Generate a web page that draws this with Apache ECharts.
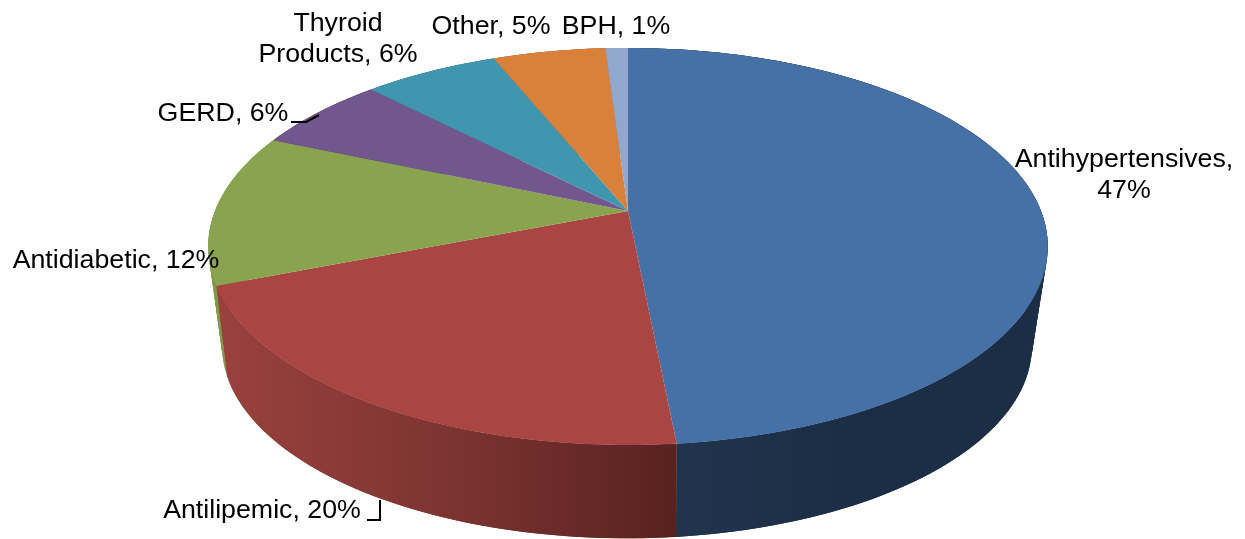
<!DOCTYPE html>
<html>
<head>
<meta charset="utf-8">
<style>html,body{margin:0;padding:0;background:#fff}#chart{width:1245px;height:539px}</style>
<script src="https://cdn.jsdelivr.net/npm/echarts@6/dist/echarts.min.js"></script>
</head>
<body>
<div id="chart"></div>
<script>
// Drug-class share, drawn as a tilted 3D pie on ECharts custom series.
const categories = ['Antihypertensives', 'Antilipemic', 'Antidiabetic', 'GERD', 'Thyroid Products', 'Other', 'BPH'];
const shares = [47, 20, 12, 6, 6, 5, 1];
const topColors = ['#4571a6', '#a94543', '#89a34e', '#71578e', '#4096ae', '#d9813b', '#92a7cd'];
const wallStops = [
  ['#22364f', '#1b2e46', '#1b2e46'],
  ['#9a413e', '#7d3432', '#58221f'],
  ['#7f9848', '#7f9848', '#7f9848'],
  ['#5a4672', '#5a4672', '#5a4672'],
  ['#33788b', '#33788b', '#33788b'],
  ['#ad6730', '#ad6730', '#ad6730'],
  ['#7485a3', '#7485a3', '#7485a3']
];
const labelLines = [
  ['Antihypertensives,', '47%'],
  ['Antilipemic, 20%'],
  ['Antidiabetic, 12%'],
  ['GERD, 6%'],
  ['Thyroid', 'Products, 6%'],
  ['Other, 5%'],
  ['BPH, 1%']
];
const labelAnchors = [[1124, 160], [262, 511], [116, 261], [223, 114], [338, 24], [491, 27], [616, 27]];
const leaderPaths = [null, [[367, 520], [380, 520], [380, 500]], null, [[291, 122], [306, 122], [319, 115]], null, null, null];

// Perspective discs: each hub sits above its ellipse centre because the far rim is foreshortened.
const upperDisc = { cx: 628, hubY: 211, a: 413, b: 192.2, p: 0.1788 };
const lowerDisc = { cx: 627, hubY: 303.7, a: 395, b: 183, p: 0.22 };

const total = shares.reduce((s, v) => s + v, 0);
const startAngles = [];
shares.reduce((run, v, i) => { startAngles[i] = run / total * Math.PI * 2; return run + v; }, 0);

function rimPoint(disc, theta) {
  const u = Math.sin(theta), v = -Math.cos(theta), d = 1 - disc.p * v;
  return [disc.cx + disc.a * u / d, disc.hubY + disc.b * v / d];
}
function sliceAngles(i) {
  const a0 = startAngles[i], a1 = a0 + shares[i] / total * Math.PI * 2;
  const n = Math.max(8, Math.ceil((a1 - a0) * 60)), out = [];
  for (let k = 0; k <= n; k++) out.push(a0 + (a1 - a0) * k / n);
  return out;
}
function sliceNearness(i) {
  const mid = startAngles[i] + shares[i] / total * Math.PI;
  return -Math.cos(mid);
}

// The wall is a strip of overlapping quads, so its side silhouette runs between the two rims
// and no hairline shows where neighbouring quads meet.
function renderWall(params, api) {
  const i = api.value(0), angles = sliceAngles(i);
  const top = angles.map(t => rimPoint(upperDisc, t));
  const low = angles.map(t => rimPoint(lowerDisc, t));
  const xs = top.concat(low).map(p => p[0]);
  const stops = wallStops[i];
  const fill = new echarts.graphic.LinearGradient(Math.min(...xs), 0, Math.max(...xs), 0, [
    { offset: 0, color: stops[0] },
    { offset: 0.5, color: stops[1] },
    { offset: 1, color: stops[2] }
  ], true);
  const children = [];
  for (let k = 0; k < angles.length - 1; k++) {
    const next = Math.min(k + 2, angles.length - 1);
    children.push({
      type: 'polygon',
      shape: { points: [top[k], top[next], low[next], low[k]] },
      style: { fill: fill }
    });
  }
  return { type: 'group', children: children };
}
function renderTop(params, api) {
  const i = api.value(0);
  const pts = [[upperDisc.cx, upperDisc.hubY]].concat(sliceAngles(i).map(t => rimPoint(upperDisc, t)));
  return { type: 'polygon', shape: { points: pts }, style: { fill: topColors[i] } };
}
function renderLabel(params, api) {
  const i = api.value(0), children = [];
  labelLines[i].forEach((line, k) => {
    children.push({
      type: 'text', x: labelAnchors[i][0], y: labelAnchors[i][1] + k * 31, scaleX: 1.07,
      style: { text: line, fill: '#000', font: '25px "Liberation Sans", Arial, sans-serif', align: 'center', verticalAlign: 'middle' }
    });
  });
  if (leaderPaths[i]) {
    children.push({ type: 'polyline', shape: { points: leaderPaths[i] }, style: { stroke: '#000', lineWidth: 2, fill: null } });
  }
  return { type: 'group', children: children };
}

const rows = categories.map((name, i) => [i, shares[i], name]);
// Walls paint far to near, so a nearer slice's wall covers the hidden part of the one behind it.
const wallRows = rows.slice().sort((a, b) => sliceNearness(a[0]) - sliceNearness(b[0]));
const chart = echarts.init(document.getElementById('chart'), null, { renderer: 'canvas' });
chart.setOption({
  animation: false,
  backgroundColor: '#fff',
  series: [
    { type: 'custom', coordinateSystem: 'none', renderItem: renderWall, data: wallRows, silent: true, z: 1 },
    { type: 'custom', coordinateSystem: 'none', renderItem: renderTop, data: rows, silent: true, z: 2 },
    { type: 'custom', coordinateSystem: 'none', renderItem: renderLabel, data: rows, silent: true, z: 3 }
  ]
});
</script>
</body>
</html>
